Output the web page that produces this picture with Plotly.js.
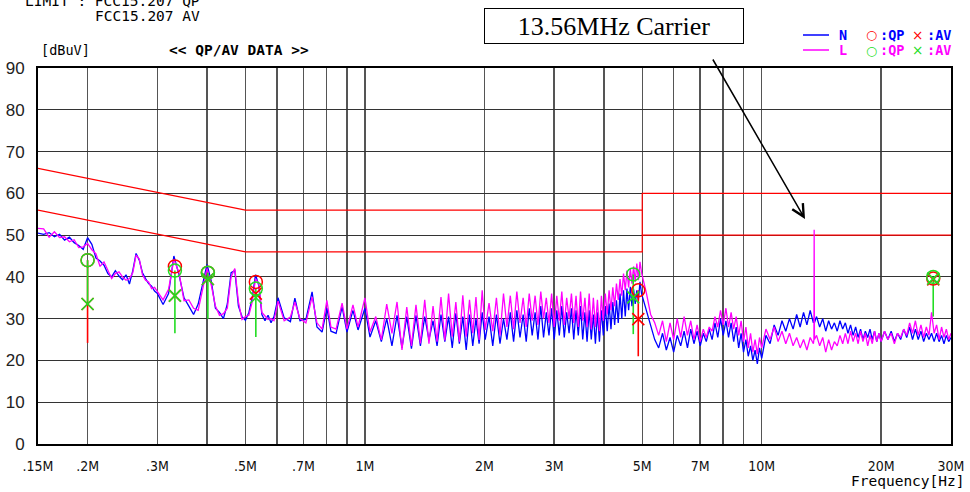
<!DOCTYPE html>
<html><head><meta charset="utf-8">
<script src="https://cdn.plot.ly/plotly-3.0.1.min.js"></script>
<style>html,body{margin:0;padding:0;background:#fff;}#chart{width:970px;height:492px;}</style>
</head><body><div id="chart"></div>
<script>
// ---- frequency segments (MHz) and measured levels (dBuV) ----
const freqA = [0.150,0.155,0.160,0.165,0.170,0.175,0.180,0.185,0.190,0.195,0.200,0.205,0.210,0.215,0.220,0.225,0.230,0.235,0.240,0.245,0.250,0.255,0.260,0.265,0.270,0.275,0.280,0.285,0.290,0.295,0.300];
const nA = [50.5,50.2,50.6,49.6,50.2,48.8,49.5,48.2,47.5,46.6,49.4,47.8,44.5,43.8,42.8,40.8,40.0,41.5,40.2,39.3,40.5,38.3,41.5,45.6,44.0,41.0,39.6,38.4,37.8,36.6,36.0];
const lA = [51.6,51.5,49.5,50.8,49.4,49.6,48.4,48.9,47.0,47.2,48.0,46.5,45.5,42.5,43.6,41.5,39.6,40.8,41.2,40.0,39.2,39.6,41.0,45.2,44.3,40.5,39.2,38.8,37.2,37.5,36.5];

const freqB = [0.310,0.320,0.330,0.340,0.350,0.360,0.370,0.380,0.390,0.400,0.410,0.420,0.430,0.440,0.450,0.460,0.470,0.480,0.490,0.500,0.510,0.520,0.530,0.540,0.550,0.560,0.570,0.580,0.590];
const nB = [33.4,36.0,45.0,40.5,35.0,33.0,31.0,33.5,38.5,43.0,39.0,32.5,31.5,30.0,33.5,41.0,41.5,33.0,30.5,29.6,31.5,35.0,40.5,38.0,31.0,29.5,30.8,29.0,30.5];
const lB = [34.5,37.0,44.2,41.0,34.3,34.5,32.5,32.0,37.5,42.0,38.0,33.0,30.8,31.2,32.5,40.0,42.0,34.0,29.8,30.5,30.8,34.0,39.5,38.5,31.5,30.5,29.8,30.0,29.5];

const freqC = [0.604,0.626,0.649,0.666,0.686,0.710,0.736,0.757,0.780,0.802,0.821,0.846,0.876,0.901,0.933,0.961,1.000];
const nC = [35.0,30.2,29.3,34.9,29.5,29.8,36.4,28.0,26.8,32.5,27.0,26.5,32.8,26.8,32.0,27.3,32.5];
const lC = [34.2,29.5,30.4,34.0,30.0,29.0,35.2,29.0,27.5,34.4,28.0,27.5,33.7,27.5,33.3,28.0,35.0];

const freqD1 = [1.030,1.065,1.100,1.135,1.170,1.205,1.240,1.275,1.310,1.345,1.380,1.415,1.450,1.485,1.520,1.555,1.590,1.625,1.660,1.695,1.730,1.765,1.800,1.835,1.870,1.905,1.940,1.975,2.010];
const nD1 = [25.6,29.5,24.5,30.0,23.5,30.8,23.0,30.5,22.8,30.8,23.5,30.5,25.0,29.5,23.5,31.0,24.5,30.5,23.0,31.3,24.0,30.5,22.5,31.0,23.5,30.0,24.0,31.5,25.0];
const lD1 = [26.8,30.5,24.9,33.5,26.5,34.0,22.5,32.8,23.5,33.3,24.1,34.5,24.0,33.0,24.5,35.2,24.8,36.0,25.7,34.0,24.5,35.6,25.7,34.5,26.5,35.2,24.9,36.8,27.3];

const freqD2 = [2.055,2.100,2.145,2.190,2.235,2.280,2.325,2.370,2.415,2.460,2.505,2.550,2.595,2.640,2.685,2.730,2.775,2.820,2.865,2.910,2.955,3.000,3.045,3.090,3.135,3.180,3.225,3.270,3.315,3.360,3.405,3.450,3.495,3.540,3.585,3.630,3.675,3.720,3.765,3.810,3.855,3.900,3.945,3.990,4.035,4.080,4.125,4.170,4.215,4.260,4.305,4.350,4.395,4.440,4.485,4.530,4.575,4.620,4.665,4.710,4.755,4.800,4.845,4.890,4.935,4.980];
const nD2 = [30.5,23.5,31.0,24.0,30.0,25.0,31.5,24.5,32.0,25.5,31.0,24.5,32.5,26.0,31.5,25.0,33.0,25.5,31.5,26.0,32.5,25.0,32.0,26.0,33.0,25.5,31.5,26.5,32.5,25.0,32.0,26.0,33.0,25.0,31.5,24.5,32.0,25.0,31.0,24.0,31.5,24.5,32.0,26.0,33.0,27.0,33.6,27.5,34.0,28.5,34.4,29.0,36.0,30.0,36.8,30.5,37.2,32.0,37.6,33.0,37.0,33.5,36.8,34.4,38.8,36.0];
const lD2 = [33.7,27.0,35.0,26.0,36.0,28.0,35.5,27.5,36.5,29.0,35.0,28.0,36.0,29.5,35.5,28.5,36.5,30.0,35.0,29.0,36.0,28.0,35.5,29.5,36.5,28.5,35.0,30.0,36.0,29.0,35.5,28.0,36.5,29.5,35.0,28.0,36.0,27.5,35.0,28.0,34.5,27.0,35.5,29.5,36.0,31.0,36.8,32.0,37.5,33.0,38.4,34.5,39.5,35.5,40.8,36.8,41.5,37.5,42.0,38.4,42.5,38.8,43.2,39.2,43.6,41.0];

const freqE1 = [5.125,5.250,5.375,5.500,5.625,5.750,5.875,6.000,6.125,6.250,6.375,6.500,6.625,6.750,6.875,7.000,7.125,7.250,7.375,7.500,7.625,7.750,7.875,8.000,8.125,8.250,8.375,8.500,8.625,8.750,8.875,9.000,9.125,9.250,9.375,9.500,9.625,9.750,9.875];
const nE1 = [32.0,28.5,25.0,23.0,26.5,22.5,25.5,22.0,26.0,23.5,27.0,23.0,27.5,24.0,27.0,23.5,26.5,24.5,27.5,25.0,29.0,25.5,30.0,26.0,29.5,25.5,29.0,24.5,28.0,23.0,26.5,22.0,25.0,21.0,23.5,20.0,22.5,19.2,23.0];
const lE1 = [36.0,31.0,29.0,26.0,29.5,24.5,29.0,25.0,30.0,25.5,30.5,26.0,29.5,25.0,28.5,24.5,27.5,25.5,28.0,27.0,30.5,28.0,32.0,28.5,32.5,28.0,31.5,27.5,30.5,26.0,29.5,24.5,28.0,23.0,26.5,22.0,25.0,21.5,25.5];

const freqE2 = [10.00,10.25,10.50,10.75,11.00,11.25,11.50,11.75,12.00,12.25,12.50,12.75,13.00,13.25,13.50,13.54,13.56,13.58,13.75,14.00,14.25,14.50,14.75,15.00,15.25,15.50,15.75,16.00,16.25,16.50,16.75,17.00,17.25,17.50,17.75,18.00,18.25,18.50,18.75,19.00,19.25,19.50,19.75];
const nE2 = [20.5,26.0,24.0,28.5,26.0,29.5,27.0,30.0,27.5,31.0,28.0,31.5,28.5,32.0,29.0,29.5,30.0,29.0,30.5,28.0,30.0,27.0,29.5,27.5,29.0,27.0,29.5,27.5,29.0,26.5,28.5,26.0,28.0,25.5,27.5,25.0,27.0,25.5,27.5,25.0,27.0,24.5,26.5];
const lE2 = [23.0,27.5,25.0,28.0,24.5,27.0,24.0,26.5,23.5,25.5,23.0,25.0,22.5,25.5,24.0,25.0,51.3,25.0,26.0,23.5,25.5,22.0,25.0,22.5,24.5,23.5,26.0,24.0,26.5,24.0,27.0,24.5,26.5,24.0,27.0,24.5,26.5,23.5,26.0,24.0,27.0,24.5,26.5];

const freqE3 = [20.0,20.4,20.8,21.2,21.6,22.0,22.4,22.8,23.2,23.6,24.0,24.4,24.8,25.2,25.6,26.0,26.4,26.8,27.2,27.6,28.0,28.4,28.8,29.2,29.6,30.0];
const nE3 = [24.5,27.0,25.0,27.0,24.5,26.5,25.0,27.5,25.5,28.0,25.0,27.5,25.0,27.0,24.5,26.5,25.0,26.5,24.5,26.5,24.5,26.0,24.0,26.0,24.5,25.5];
const lE3 = [24.5,27.0,25.0,26.5,24.0,26.5,25.5,27.5,26.0,29.0,26.5,29.5,26.0,28.5,25.5,28.0,26.0,31.5,26.5,28.5,25.0,28.0,25.5,27.5,25.0,26.5];

// ---- limits ----
const limQPf = [0.15, 0.5, 5, 5, 30];
const limQPv = [66, 56, 56, 60, 60];
const limAVf = [0.15, 0.5, 5, 5, 30];
const limAVv = [56, 46, 46, 50, 50];
const limJoinF = [5, 5];
const limJoinV = [50, 56];

// ---- QP / AV readings ----
const mkFreqN = [0.200, 0.332, 0.402, 0.531, 4.886, 27.06];
const qpN = [44.0, 42.5, 41.0, 38.8, 36.8, 39.6];
const avN = [33.5, 35.5, 39.5, 36.0, 29.9, 39.4];
const stemBotN = [24.2, null, null, null, 21.0, null];
const mkFreqL = [0.200, 0.332, 0.402, 0.531, 4.746, 27.06];
const qpL = [44.0, 41.5, 41.0, 37.2, 40.6, 40.0];
const avL = [33.5, 35.5, 39.5, 35.0, 35.1, 39.6];
const stemBotL = [33.5, 26.5, 30.0, 25.6, 26.3, 30.5];

const tickVals = [0.15,0.2,0.3,0.4,0.5,0.6,0.7,0.8,0.9,1,2,3,4,5,6,7,8,9,10,20,30];
const tickText = ['.15M','.2M','.3M','','.5M','','.7M','','','1M','2M','3M','','5M','','7M','','','10M','20M','30M'];

const freq = [].concat(freqA,freqB,freqC,freqD1,freqD2,freqE1,freqE2,freqE3);
const levN = [].concat(nA,nB,nC,nD1,nD2,nE1,nE2,nE3);
const levL = [].concat(lA,lB,lC,lD1,lD2,lE1,lE2,lE3);

function stems(f, top, bot){
  const x=[], y=[];
  for(let i=0;i<f.length;i++){ if(bot[i]===null) continue; x.push(f[i],f[i],null); y.push(bot[i],top[i],null); }
  return {x, y};
}
const sN = stems(mkFreqN, qpN, stemBotN);
const sL = stems(mkFreqL, qpL, stemBotL);

const RED='#ff0000', GRN='#22dd22', BLU='#0000ff', MAG='#ff00ff';
const traces = [
  {x:limQPf, y:limQPv, mode:'lines', line:{color:RED,width:1.2}, hoverinfo:'skip'},
  {x:limAVf, y:limAVv, mode:'lines', line:{color:RED,width:1.2}, hoverinfo:'skip'},
  {x:limJoinF, y:limJoinV, mode:'lines', line:{color:RED,width:1.2}, hoverinfo:'skip'},
  {x:freq, y:levN, mode:'lines', name:'N', line:{color:BLU,width:1.3}},
  {x:freq, y:levL, mode:'lines', name:'L', line:{color:MAG,width:1.3}},
  {x:sN.x, y:sN.y, mode:'lines', line:{color:RED,width:1.6}, connectgaps:false},
  {x:sL.x, y:sL.y, mode:'lines', line:{color:GRN,width:1.6}, connectgaps:false},
  {x:mkFreqN, y:qpN, mode:'markers', marker:{symbol:'circle-open', size:13, color:RED, line:{width:1.5}}},
  {x:mkFreqN, y:avN, mode:'markers', marker:{symbol:'x-thin-open', size:12, color:RED, line:{width:1.6, color:RED}}},
  {x:mkFreqL, y:qpL, mode:'markers', marker:{symbol:'circle-open', size:13, color:GRN, line:{width:1.5}}},
  {x:mkFreqL, y:avL, mode:'markers', marker:{symbol:'x-thin-open', size:12, color:GRN, line:{width:1.6, color:GRN}}}
];

const PL=38, PR=951, PT=68, PB=444;
const pxX = x => (x-PL)/(PR-PL);
const pxY = y => (PB-y)/(PB-PT);
const MONO = 'DejaVu Sans Mono, monospace';

function txt(text, x, y, opts){
  return Object.assign({text, xref:'paper', yref:'paper', x:pxX(x), y:pxY(y), xanchor:'left', yanchor:'middle', showarrow:false,
    borderpad:0, font:{family:MONO, size:14, color:'#000'}}, opts||{});
}
const LEG = 12.5;

const annotations = [
  txt('LIMIT : FCC15.207 QP', 24, 1, {font:{family:MONO,size:14.5,color:'#000'}}),
  txt('FCC15.207 AV', 94, 16, {font:{family:MONO,size:14.5,color:'#000'}}),
  txt('[dBuV]', 40, 50, {font:{family:MONO,size:13.5,color:'#000'}}),
  txt('<b>&lt;&lt; QP/AV DATA &gt;&gt;</b>', 168, 50, {font:{family:MONO,size:14.5,color:'#000'}}),
  txt('Frequency[Hz]', 966, 481, {xanchor:'right', font:{family:MONO,size:14.5,color:'#000'}}),
  // legend
  txt('<b>N</b>', 838, 35, {font:{family:MONO,size:LEG+1,color:BLU}}),
  txt('<b>L</b>', 838, 50, {font:{family:MONO,size:LEG+1,color:MAG}}),
  txt('○', 871, 35, {xanchor:'center', font:{family:'DejaVu Sans',size:LEG,color:RED}}),
  txt('○', 871, 50, {xanchor:'center', font:{family:'DejaVu Sans',size:LEG,color:GRN}}),
  txt('<b>:QP</b>', 879, 35, {font:{family:MONO,size:LEG+1,color:BLU}}),
  txt('<b>:QP</b>', 879, 50, {font:{family:MONO,size:LEG+1,color:MAG}}),
  txt('×', 917, 35, {xanchor:'center', font:{family:'DejaVu Sans',size:LEG+1,color:RED}}),
  txt('×', 917, 50, {xanchor:'center', font:{family:'DejaVu Sans',size:LEG+1,color:GRN}}),
  txt('<b>:AV</b>', 926, 35, {font:{family:MONO,size:LEG+1,color:BLU}}),
  txt('<b>:AV</b>', 926, 50, {font:{family:MONO,size:LEG+1,color:MAG}}),
  // carrier box
  {text:'13.56MHz Carrier', xref:'paper', yref:'paper', x:pxX(614), y:pxY(26), xanchor:'center', yanchor:'middle', showarrow:false,
   font:{family:'Liberation Serif, Times New Roman, serif', size:26, color:'#000'},
   bordercolor:'#000', borderwidth:1, bgcolor:'#fff', width:256, height:32, borderpad:1},
  // arrow
  {text:'', xref:'paper', yref:'paper', x:pxX(805), y:pxY(219), ax:-93, ay:-161, showarrow:true,
   arrowhead:5, arrowsize:1.6, arrowwidth:1.5, arrowcolor:'#000'}
];

const shapes = [
  {type:'line', xref:'paper', yref:'paper', x0:pxX(803), x1:pxX(829), y0:pxY(35), y1:pxY(35), line:{color:BLU,width:1.5}},
  {type:'line', xref:'paper', yref:'paper', x0:pxX(803), x1:pxX(829), y0:pxY(50), y1:pxY(50), line:{color:MAG,width:1.5}}
];

const layout = {
  width:970, height:492,
  margin:{l:PL, r:970-PR, t:PT, b:492-PB, pad:0},
  paper_bgcolor:'#fff', plot_bgcolor:'#fff',
  showlegend:false,
  xaxis:{type:'log', range:[Math.log10(0.15), Math.log10(30)], tickmode:'array', tickvals:tickVals, ticktext:tickText,
    showgrid:true, gridcolor:'#555', gridwidth:1.5, zeroline:false, showline:true, linecolor:'#000', linewidth:2, mirror:true,
    ticks:'', ticklabelstandoff:8, tickfont:{family:'Liberation Sans Narrow, DejaVu Sans Condensed, sans-serif', size:14, color:'#111'}},
  yaxis:{range:[0,90], tickmode:'array', tickvals:[0,10,20,30,40,50,60,70,80,90],
    showgrid:true, gridcolor:'#333', gridwidth:1.2, zeroline:false, showline:true, linecolor:'#000', linewidth:2, mirror:true,
    ticks:'', ticklabelstandoff:8, tickfont:{family:'Liberation Sans, Arial, sans-serif', size:17, color:'#222'}},
  annotations, shapes
};

Plotly.newPlot('chart', traces, layout, {staticPlot:true, displayModeBar:false});
</script></body></html>
